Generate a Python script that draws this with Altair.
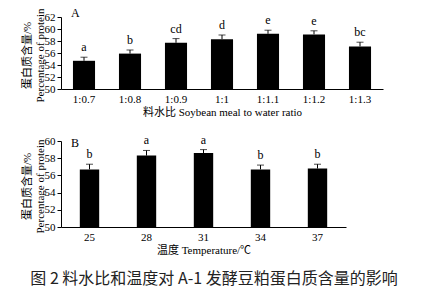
import altair as alt
import pandas as pd

ratio_labels = ["1:0.7", "1:0.8", "1:0.9", "1:1", "1:1.1", "1:1.2", "1:1.3"]
ratio_values = [54.7, 55.9, 57.7, 58.3, 59.2, 59.1, 57.1]
ratio_errors = [0.6, 0.6, 0.7, 0.7, 0.6, 0.6, 0.7]
ratio_letters = ["a", "b", "cd", "d", "e", "e", "bc"]

temp_labels = ["25", "28", "31", "34", "37"]
temp_values = [56.7, 58.3, 58.6, 56.7, 56.8]
temp_errors = [0.6, 0.6, 0.4, 0.5, 0.5]
temp_letters = ["b", "a", "a", "b", "b"]

SERIF = "Liberation Serif, Noto Sans CJK SC"
YTITLE = ["蛋白质含量/%", "Percentage of protein"]


def panel(labels, values, errors, letters, ymin, ymax, ystep, xtitle, tag, w, h, pad, tag_y):
    df = pd.DataFrame({"cat": labels, "val": values, "err": errors, "lab": letters})
    df["top"] = df["val"] + df["err"]
    xenc = alt.X("cat:N", sort=labels, title=xtitle,
                 scale=alt.Scale(paddingInner=pad, paddingOuter=pad / 2),
                 axis=alt.Axis(labelAngle=0, ticks=False, labelPadding=4, titlePadding=2))
    yscale = alt.Scale(domain=[ymin, ymax], nice=False, zero=False)
    yaxis = alt.Axis(values=list(range(ymin, ymax + 1, ystep)), tickSize=4,
                     labelPadding=2, labelOverlap=False,
                     titleLineHeight=13, titleX=-34, titleY=h / 2 + 2,
                     titleBaseline="middle", titleAlign="center", titleAngle=270)
    base = alt.Chart(df)
    bars = base.mark_bar(color="black").encode(
        x=xenc,
        y=alt.Y("val:Q", scale=yscale, title=YTITLE, axis=yaxis),
        y2=alt.datum(ymin),
    )
    rules = base.mark_rule(color="black", strokeWidth=1).encode(
        x=alt.X("cat:N", sort=labels), y=alt.Y("val:Q", title=YTITLE, axis=yaxis), y2="top:Q")
    caps = base.mark_tick(color="black", thickness=1, size=7, orient="horizontal").encode(
        x=alt.X("cat:N", sort=labels), y=alt.Y("top:Q", title=YTITLE, axis=yaxis))
    text = base.mark_text(font=SERIF, fontSize=12, baseline="bottom", dy=-3, color="black").encode(
        x=alt.X("cat:N", sort=labels), y=alt.Y("top:Q", title=YTITLE, axis=yaxis), text="lab:N")
    tagm = alt.Chart(pd.DataFrame({"t": [tag]})).mark_text(
        font=SERIF, fontSize=12, align="left", baseline="middle", color="black"
    ).encode(x=alt.value(10), y=alt.value(tag_y), text="t:N")
    return alt.layer(bars, rules, caps, text, tagm).properties(width=w, height=h)


pa = panel(ratio_labels, ratio_values, ratio_errors, ratio_letters, 50, 62, 2,
           "料水比 Soybean meal to water ratio", "A", 322, 72, 0.52, -4)
pb = panel(temp_labels, temp_values, temp_errors, temp_letters, 50, 60, 2,
           "温度 Temperature/℃", "B", 285, 86, 0.66, 2)

chart = alt.vconcat(pa, pb, spacing=16).properties(
    title=alt.TitleParams("图 2   料水比和温度对 A-1 发酵豆粕蛋白质含量的影响", orient="bottom",
                          anchor="middle", font="Noto Sans CJK SC", fontSize=16,
                          fontWeight="normal", offset=16, color="#222", dx=12),
    padding={"left": 21, "top": 7, "right": 5, "bottom": 2},
).configure_view(stroke=None).configure_axis(
    grid=False, domainColor="black", tickColor="black", labelColor="black", titleColor="black",
    labelFont=SERIF, titleFont=SERIF, labelFontSize=11, titleFontSize=11, titleFontWeight="normal",
    labelOverlap=False,
).configure_concat(spacing=16)

chart.save("out.html", embed_options={"renderer": "svg", "actions": False})
